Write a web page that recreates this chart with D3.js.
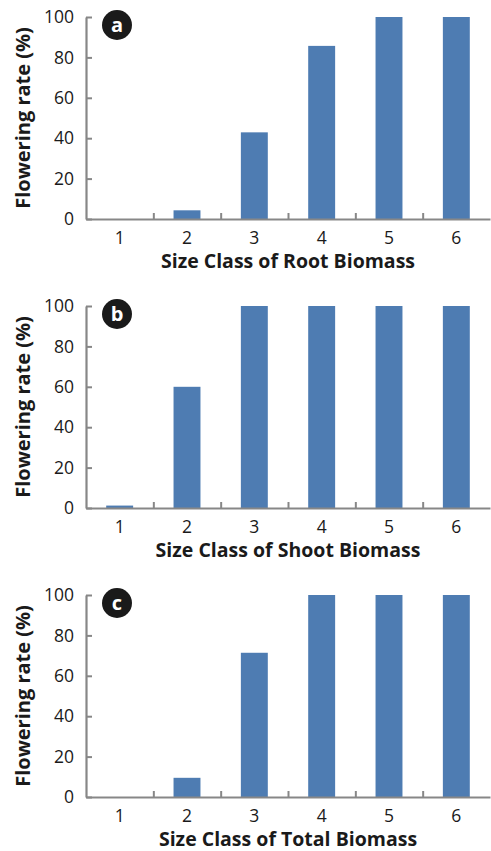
<!DOCTYPE html>
<html>
<head>
<meta charset="utf-8">
<script src="https://cdn.jsdelivr.net/npm/d3@7"></script>
<style>
  body { margin: 0; background: #fff; }
  text { font-family: "Open Sans", sans-serif; fill: #1a1a1a; }
</style>
</head>
<body>
<script>
// data
var categories = ["1", "2", "3", "4", "5", "6"];
var rootValues = [0, 4.3, 42.9, 85.7, 100, 100];
var shootValues = [1.2, 60, 100, 100, 100, 100];
var totalValues = [0, 9.5, 71.4, 100, 100, 100];
var panelLetters = ["a", "b", "c"];
var xTitles = ["Size Class of Root Biomass", "Size Class of Shoot Biomass", "Size Class of Total Biomass"];
var yTitle = "Flowering rate (%)";
var yTicks = [0, 20, 40, 60, 80, 100];

var width = 491, height = 851;
var left = 86, right = 490;
var panelTops = [17, 306, 595]; // y of the 100 line in each panel
var plotH = 202;

var svg = d3.select("body").append("svg")
    .attr("width", width)
    .attr("height", height);

var x = d3.scaleBand()
    .domain(categories)
    .range([left, right])
    .paddingInner(0.6)
    .paddingOuter(0.3);

// boundaries between classes, for the small upward ticks
var xb = d3.scaleLinear().domain([0, categories.length]).range([left, right]);

var series = [rootValues, shootValues, totalValues];

series.forEach(function(values, i) {
  var top = panelTops[i];
  var y = d3.scaleLinear().domain([0, 100]).range([top + plotH, top]);
  var g = svg.append("g");

  // bars
  g.selectAll("rect")
    .data(values)
    .enter().append("rect")
      .attr("x", function(d, j) { return x(categories[j]); })
      .attr("width", x.bandwidth())
      .attr("y", function(d) { return y(d); })
      .attr("height", function(d) { return y(0) - y(d); })
      .attr("fill", "#4e7cb2");

  // y axis, ticks pointing inward
  var yAxis = g.append("g")
    .attr("transform", "translate(" + left + ",0)")
    .call(d3.axisLeft(y).tickValues(yTicks).tickSize(-6).tickSizeOuter(0).tickPadding(12));
  yAxis.select(".domain").attr("stroke", "#878787").attr("stroke-width", 2.2);
  yAxis.selectAll(".tick line").attr("stroke", "#878787").attr("stroke-width", 2);
  yAxis.selectAll("text")
    .attr("font-size", 17.5)
    .attr("font-family", "Open Sans, sans-serif")
    .attr("fill", "#1a1a1a");

  // x axis: line + boundary ticks pointing up
  var xTicks = g.append("g")
    .attr("transform", "translate(0," + y(0) + ")")
    .call(d3.axisTop(xb).tickValues(d3.range(1, categories.length)).tickSize(6).tickSizeOuter(0).tickFormat(""));
  xTicks.select(".domain").attr("stroke", "#878787").attr("stroke-width", 2.2);
  xTicks.selectAll(".tick line").attr("stroke", "#878787").attr("stroke-width", 2);

  // category labels
  var xLab = g.append("g")
    .attr("transform", "translate(0," + y(0) + ")")
    .call(d3.axisBottom(x).tickSize(0).tickPadding(0));
  xLab.select(".domain").remove();
  xLab.selectAll("text")
    .attr("y", 25)
    .attr("dy", null)
    .attr("font-size", 17.5)
    .attr("font-family", "Open Sans, sans-serif")
    .attr("fill", "#1a1a1a");

  // x title
  g.append("text")
    .attr("x", (left + right) / 2)
    .attr("y", y(0) + 49)
    .attr("text-anchor", "middle")
    .attr("font-size", 19.5)
    .attr("font-weight", "bold")
    .text(xTitles[i]);

  // y title
  g.append("text")
    .attr("transform", "translate(30," + (top + plotH / 2) + ") rotate(-90)")
    .attr("text-anchor", "middle")
    .attr("font-size", 20)
    .attr("font-weight", "bold")
    .text(yTitle);

  // panel letter badge
  g.append("circle")
    .attr("cx", 117)
    .attr("cy", top + 8)
    .attr("r", 15)
    .attr("fill", "#1a1a1a");
  g.append("text")
    .attr("x", 117)
    .attr("y", top + 8)
    .attr("dy", "0.36em")
    .attr("text-anchor", "middle")
    .attr("font-size", 20)
    .attr("font-weight", "bold")
    .style("fill", "#fff")
    .text(panelLetters[i]);
});
</script>
</body>
</html>
